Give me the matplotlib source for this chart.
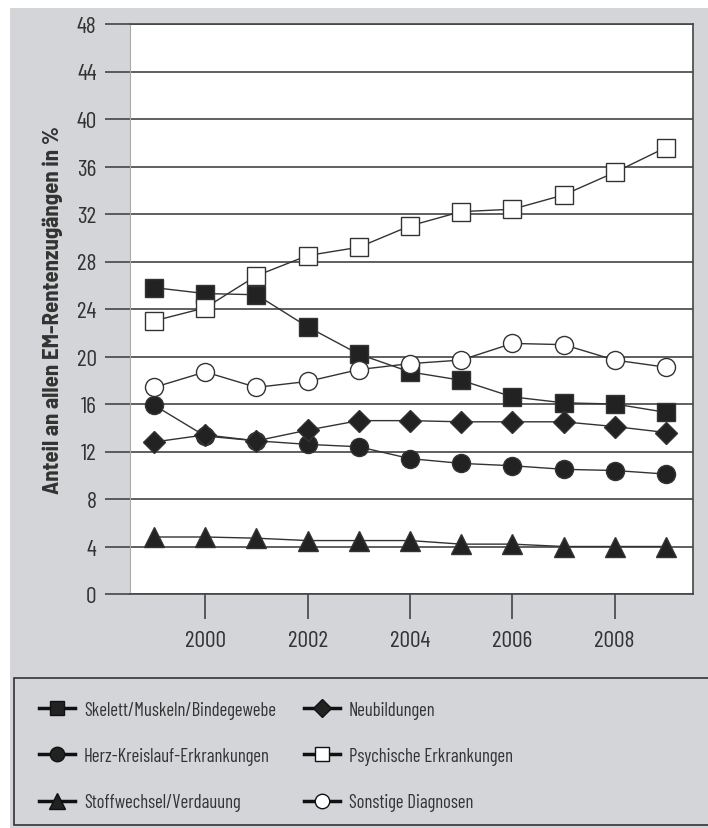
import matplotlib
matplotlib.use("Agg")
import matplotlib.pyplot as plt
from matplotlib.lines import Line2D
from matplotlib.patches import Rectangle

plt.rcParams['font.family'] = ['Barlow Condensed', 'DejaVu Sans']

# data (share in %)
years = [1999, 2000, 2001, 2002, 2003, 2004, 2005, 2006, 2007, 2008, 2009]
skelett = [25.8, 25.3, 25.2, 22.5, 20.2, 18.7, 18.0, 16.6, 16.1, 16.0, 15.3]
herz = [15.9, 13.3, 12.9, 12.6, 12.4, 11.4, 11.0, 10.8, 10.5, 10.4, 10.1]
stoffwechsel = [4.8, 4.8, 4.7, 4.5, 4.5, 4.5, 4.2, 4.2, 4.0, 4.0, 4.0]
neubildungen = [12.8, 13.4, 12.9, 13.8, 14.6, 14.6, 14.5, 14.5, 14.5, 14.1, 13.6]
psychische = [23.0, 24.1, 26.8, 28.5, 29.2, 31.0, 32.2, 32.4, 33.6, 35.5, 37.6]
sonstige = [17.4, 18.7, 17.4, 17.9, 18.9, 19.4, 19.7, 21.1, 21.0, 19.7, 19.1]

labels = ['Skelett/Muskeln/Bindegewebe', 'Herz-Kreislauf-Erkrankungen',
          'Stoffwechsel/Verdauung', 'Neubildungen',
          'Psychische Erkrankungen', 'Sonstige Diagnosen']
yticks = list(range(0, 49, 4))
xticks = [2000, 2002, 2004, 2006, 2008]

bg = '#d3d5d8'
dark = '#222222'

fig = plt.figure(figsize=(7.08, 8.29), dpi=100)
fig.patch.set_facecolor('white')

# grey panel behind everything
fig.patches.append(Rectangle((10 / 708, 0), 1, (829 - 9) / 829, transform=fig.transFigure,
                             facecolor=bg, edgecolor='none', zorder=-10))

ax = fig.add_axes([130 / 708, 1 - 595 / 829, 563 / 708, 570 / 829])
ax.set_facecolor('white')

# series in legend order (column-wise): values, marker, face colour, marker size
series = [
    (skelett, 's', dark, 13),
    (herz, 'o', dark, 13),
    (stoffwechsel, '^', dark, 14),
    (neubildungen, 'D', dark, 11),
    (psychische, 's', 'white', 13),
    (sonstige, 'o', 'white', 13),
]

for vals, mk, fc, ms in series:
    ax.plot(years, vals, color='#333333', lw=1.0, marker=mk, markersize=ms,
            markerfacecolor=fc, markeredgecolor='#333333', markeredgewidth=1.0, zorder=3)

ax.set_xlim(1998.53, 2009.53)
ax.set_ylim(0, 48)
ax.set_yticks(yticks)
ax.set_xticks(xticks)
ax.yaxis.grid(True, color='#444444', lw=1.2)
ax.set_axisbelow(True)

ax.tick_params(axis='y', length=18, width=1.2, color='#444444', labelsize=17,
               labelcolor='#333333', pad=6)
ax.tick_params(axis='x', length=18, width=1.2, color='#444444', labelsize=17,
               labelcolor='#333333', pad=8)

for side in ['top', 'right', 'bottom']:
    ax.spines[side].set_color('#444444')
    ax.spines[side].set_linewidth(1.2)
ax.spines['left'].set_color('#aaaaaa')

ax.set_ylabel('Anteil an allen EM-Rentenzugängen in %', fontsize=16.5, fontweight='bold',
              family=['Barlow Semi Condensed', 'DejaVu Sans'], color='#333333', labelpad=10)

# legend box
fig.patches.append(Rectangle((14 / 708, 3 / 829), 1, (826 - 679) / 829, transform=fig.transFigure,
                             facecolor=bg, edgecolor='#333333', lw=1.2, zorder=-5))

handles = []
for vals, mk, fc, ms in series:
    handles.append(Line2D([], [], color='#111111', lw=2.5, marker=mk, markersize=ms * 0.8,
                          markerfacecolor=fc, markeredgecolor='#111111', markeredgewidth=1.0))

fig.legend(handles, labels, ncol=2, loc='upper left', bbox_to_anchor=(22 / 708, 1 - 685 / 829),
           frameon=False, fontsize=13.5, handlelength=1.9, handletextpad=0.5,
           columnspacing=1.5, labelspacing=1.5, labelcolor='#333333')

fig.savefig('out.png', dpi=100, facecolor=fig.get_facecolor())
